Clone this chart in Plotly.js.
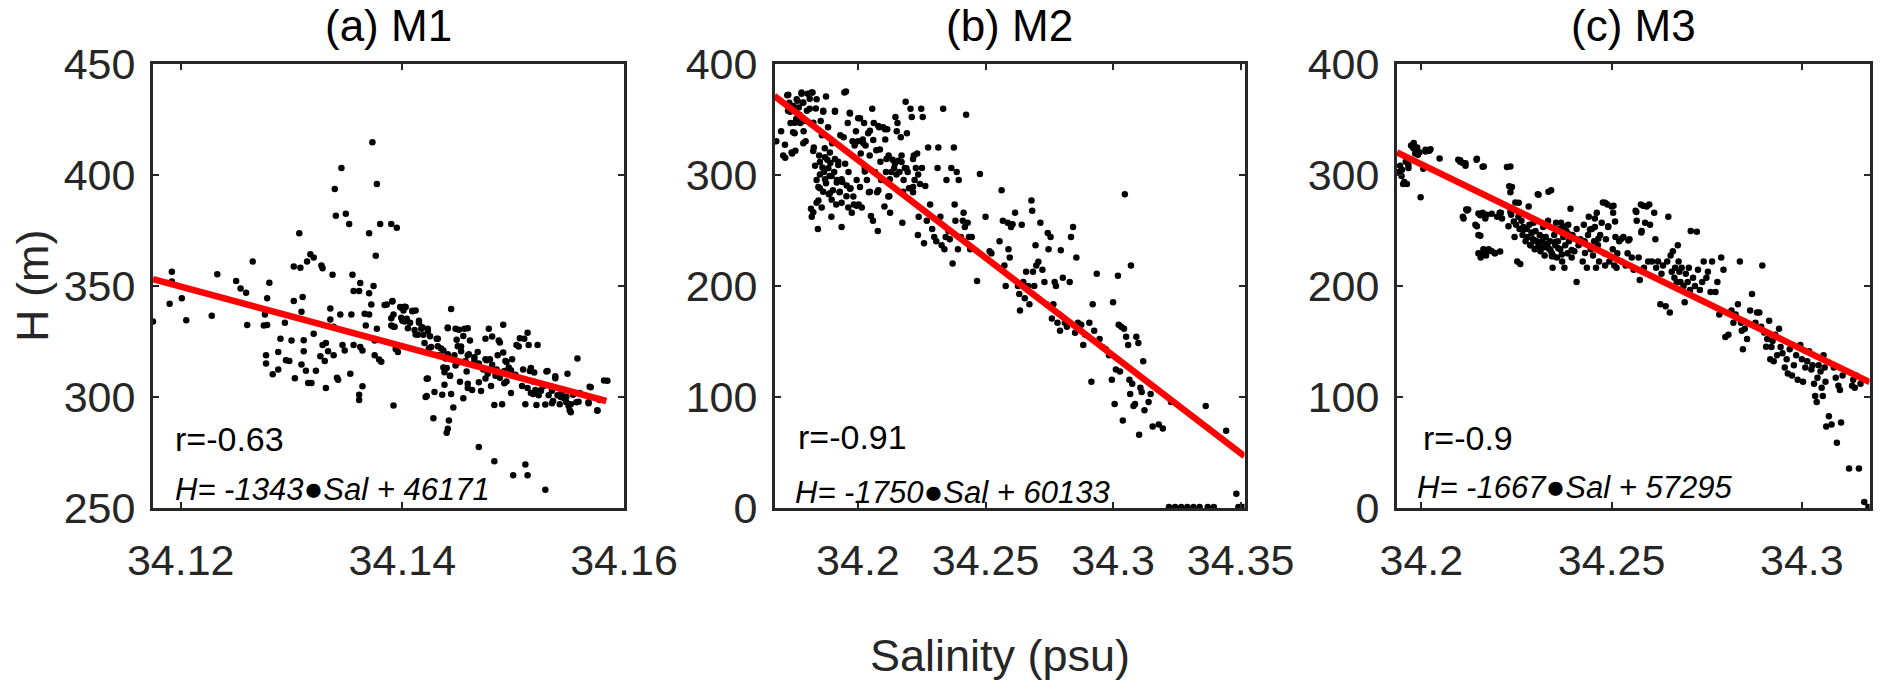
<!DOCTYPE html>
<html>
<head>
<meta charset="utf-8">
<script src="https://cdn.plot.ly/plotly-3.0.1.min.js"></script>
<style>
  body { margin: 0; background: #fff; }
  #graph { width: 1892px; height: 699px; }
</style>
</head>
<body>
<div id="graph"></div>
<script>
// M1: salinity (psu), H (m)
var m1_points = [
  [34.1192,356.4],[34.1192,352],[34.1190,342],[34.1201,344.5],[34.1205,334.6],[34.1175,334],[34.1228,336.6],[34.1233,355.3],
  [34.1250,352.2],[34.1254,348.9],[34.1259,347],[34.1265,361],[34.1260,332.4],[34.1280,351.5],[34.1278,344.5],[34.1276,337.2],
  [34.1275,332.2],[34.1278,332.4],[34.1277,318.8],[34.1277,315.1],[34.1283,310.2],[34.1288,312.4],[34.1288,320.3],[34.1290,326.2],
  [34.1294,333.5],[34.1295,316.6],[34.1298,316.2],[34.1300,325.4],[34.1302,343.2],[34.1302,358.8],[34.1307,373.8],[34.1308,358.2],
  [34.1309,338.4],[34.1310,345],[34.1311,320.6],[34.1311,325.6],[34.1303,308.5],[34.1309,314.6],[34.1313,311.8],[34.1315,306.3],
  [34.1318,306.3],[34.1314,361],[34.1317,364.3],[34.1320,362.8],[34.1320,328.5],[34.1322,311.8],[34.1327,359.2],[34.1328,358],
  [34.1326,318.4],[34.1328,323.4],[34.1330,316.2],[34.1331,304.1],[34.1331,324.3],[34.1333,320.6],[34.1335,339.9],[34.1335,334.9],
  [34.1337,355.1],[34.1338,318.8],[34.1338,331.6],[34.1339,393.7],[34.1340,381.6],[34.1341,308.7],[34.1342,307.8],[34.1345,403.2],
  [34.1344,337.2],[34.1346,323.4],[34.1348,321],[34.1349,382.5],[34.1352,377.9],[34.1353,310.5],[34.1354,337.2],[34.1355,355.1],
  [34.1356,347.8],[34.1356,323.4],[34.1361,298.6],[34.1361,301],[34.1361,347.8],[34.1362,351.3],[34.1362,322.5],[34.1364,304.8],
  [34.1364,321],[34.1366,337.5],[34.1367,332.2],[34.1370,373.8],[34.1370,346.7],[34.1370,337.2],[34.1372,341.7],[34.1373,414.8],
  [34.1374,350],[34.1375,325.4],[34.1375,318.8],[34.1376,363.6],[34.1377,396],[34.1377,330.7],[34.1379,316.9],[34.1380,377.9],
  [34.1381,315.9],[34.1384,341.4],[34.1386,341.7],[34.1390,377.9],[34.1390,332.2],[34.1391,343.2],[34.1392,296.2],[34.1392,337.2],
  [34.1393,331.6],[34.1395,376.2],[34.1394,321.6],[34.1396,320.3],[34.1398,340.5],[34.1399,335.7],[34.1401,339],[34.1402,334],
  [34.1403,340.5],[34.1404,335.3],[34.1407,333.5],[34.1409,338.6],[34.1411,330.2],[34.1412,339],[34.1414,328],[34.1415,333.5],
  [34.1417,330.7],[34.1419,328],[34.1420,324.3],[34.1422,308.2],[34.1422,300.4],[34.1423,330.7],[34.1425,327.4],[34.1426,322.5],
  [34.1428,290.4],[34.1429,302.2],[34.1431,326.2],[34.1432,322.9],[34.1433,318.8],[34.1436,301],[34.1437,321],[34.1437,313.3],
  [34.1438,311.1],[34.1439,317.3],[34.1440,283.9],[34.1441,285.7],[34.1441,331.3],[34.1442,289.4],[34.1443,309.6],[34.1444,339.6],
  [34.1444,301.4],[34.1446,295.3],[34.1447,318.8],[34.1448,314.2],[34.1448,330.7],[34.1449,325.8],[34.1450,322.9],[34.1452,306.9],
  [34.1453,320.6],[34.1455,299.4],[34.1456,330.7],[34.1457,316.2],[34.1458,311.5],[34.1459,306],[34.1459,318.8],[34.1461,325.4],
  [34.1463,303.2],[34.1465,316.7],[34.1468,320.3],[34.1469,277.5],[34.1471,302.7],[34.1473,312.4],[34.1475,317],[34.1475,326.2],
  [34.1477,310.5],[34.1478,330.7],[34.1479,317],[34.1480,305],[34.1481,327.2],[34.1483,271.1],[34.1483,296.4],[34.1485,312.4],
  [34.1486,318.8],[34.1487,325.4],[34.1488,308.7],[34.1490,296.7],[34.1491,332.6],[34.1492,311.7],[34.1493,316.2],[34.1494,307],
  [34.1496,313.3],[34.1498,301.8],[34.1499,317],[34.1500,264.7],[34.1502,310],[34.1503,323.4],[34.1506,326.5],[34.1508,305],
  [34.1509,312.4],[34.1511,269.6],[34.1511,296.7],[34.1513,328.9],[34.1513,264.7],[34.1514,323.4],[34.1515,311.7],[34.1516,301.8],
  [34.1518,307],[34.1520,303.2],[34.1521,296.4],[34.1522,323.4],[34.1523,300.8],[34.1525,303],[34.1527,304.8],[34.1529,258.2],
  [34.1530,311.5],[34.1532,300.8],[34.1535,302.8],[34.1536,298.2],[34.1538,309.3],[34.1540,300.8],[34.1542,296.7],[34.1544,302.2],
  [34.1546,299.4],[34.1548,297.6],[34.1549,310.5],[34.1551,294],[34.1552,296.7],[34.1554,301],[34.1557,297.6],[34.1558,317.3],
  [34.1560,301.8],[34.1568,297.6],[34.1569,304.6],[34.1576,294],[34.1582,307.4],[34.1578,298.6],
  [34.1391,343],[34.1399,340.2],[34.1402,340.6],[34.1409,338.8],[34.1390,335.5],[34.1392,331.7],[34.1400,334.4],[34.1405,331],
  [34.1415,334.4],[34.1418,331.4],[34.1423,329.6],[34.1412,328.2],[34.1424,322],[34.1432,326.2],[34.1435,321.8],[34.1441,331],
  [34.1451,330.3],[34.1459,331],[34.1441,319.3],[34.1440,313.1],[34.1443,309.6],[34.1449,315.1],[34.1453,322.7],[34.1455,327.5],
  [34.1460,319.3],[34.1465,317.9],[34.1469,315.1],[34.1476,316.5],[34.1481,314.5],[34.1488,324.5],[34.1491,320],[34.1494,315.8],
  [34.1498,312.1],[34.1492,306.2],[34.1484,309.6],[34.1475,308.3],[34.1469,306.6],[34.1459,304.1],[34.1505,322.7],[34.1510,326.2],
  [34.1516,313.1],[34.1519,311],[34.1513,304.1],[34.1518,301.4],[34.1525,302.8],[34.1531,311.7],[34.1535,304.1],[34.1538,308.5],
  [34.1543,300],[34.1548,300],[34.1550,295.9],[34.1552,293.1],[34.1535,297.2],[34.1529,296.6],[34.1559,297.9],[34.1568,297.2],
  [34.1576,293.8],[34.1570,304.4],[34.1585,307.3],[34.1438,305.5],[34.1423,308.3],[34.1421,300]
];

// M2
var m2_points = [
  [34.1680,330.3],[34.1699,339.5],[34.1707,317.5],[34.1715,315.6],[34.1723,371.8],[34.1726,357.8],[34.1731,365.1],[34.1736,346.8],
  [34.1742,319.3],[34.1747,362.2],[34.1752,337.6],[34.1755,321.9],[34.1758,350.5],[34.1763,367],[34.1768,360.8],[34.1771,354.2],
  [34.1774,346.8],[34.1779,373.2],[34.1784,365.1],[34.1787,339.5],[34.1790,348.7],[34.1795,330.3],[34.1800,357.8],[34.1803,373.2],
  [34.1811,368.8],[34.1816,269.7],[34.1819,262.4],[34.1822,374.3],[34.1827,324.8],[34.1832,308.3],[34.1835,360],[34.1838,295.4],
  [34.1843,251.4],[34.1845,277.1],[34.1848,317.5],[34.1851,288.1],[34.1854,348.7],[34.1859,335.8],[34.1861,306.8],[34.1864,357.8],
  [34.1867,302.8],[34.1870,324.1],[34.1875,370.7],[34.1875,292.5],[34.1880,313.8],[34.1883,343.1],[34.1886,282.6],[34.1889,299.1],
  [34.1892,310.8],[34.1896,262.4],[34.1899,328.5],[34.1902,286.3],[34.1907,302.8],[34.1910,357.8],[34.1915,273.4],[34.1918,295.4],
  [34.1923,311.9],[34.1928,284.4],[34.1931,335.8],[34.1936,253.2],[34.1939,293.6],[34.1944,333.9],[34.1947,374.3],[34.1950,310.1],
  [34.1955,280.8],[34.1960,346.8],[34.1963,302.8],[34.1968,356],[34.1971,288.1],[34.1976,266.1],[34.1979,330.3],[34.1984,273.4],
  [34.1987,326.6],[34.1992,339.5],[34.1995,295.4],[34.2000,330.3],[34.2003,273.4],[34.2008,351.2],[34.2011,319.3],[34.2019,332],
  [34.2024,346.8],[34.2027,306.4],[34.2030,326.6],[34.2035,295.4],[34.2040,337.6],[34.2043,284.4],[34.2046,317.5],[34.2051,263.1],
  [34.2056,359.7],[34.2059,258.7],[34.2062,346.8],[34.2067,302.8],[34.2072,322.2],[34.2075,284.4],[34.2078,249.6],[34.2083,343.1],
  [34.2088,311.9],[34.2091,295.4],[34.2099,343.1],[34.2104,271.6],[34.2107,332],[34.2110,302.8],[34.2115,341.3],[34.2120,317.5],
  [34.2123,280.8],[34.2126,266.1],[34.2131,302.8],[34.2136,313.8],[34.2142,306.4],[34.2147,352.3],[34.2152,339.5],[34.2155,346.8],
  [34.2158,312.9],[34.2163,302.8],[34.2168,334],[34.2171,317.5],[34.2174,256.9],[34.2179,295.4],[34.2184,306.4],[34.2187,365.9],
  [34.2192,337.6],[34.2195,302.8],[34.2200,288.1],[34.2206,359.7],[34.2211,352.3],[34.2216,284.4],[34.2219,317.5],[34.2222,295.4],
  [34.2227,306.4],[34.2232,319.3],[34.2235,245.9],[34.2238,262.4],[34.2243,291.8],[34.2248,359.7],[34.2251,306.4],[34.2254,352.3],
  [34.2259,238.6],[34.2264,290],[34.2270,258.7],[34.2275,324.8],[34.2283,273.4],[34.2291,251.4],[34.2299,244.1],[34.2307,240.4],
  [34.2312,306.4],[34.2315,324.8],[34.2323,262.4],[34.2328,236.7],[34.2334,359.7],[34.2339,233.1],[34.2344,244.1],[34.2347,295.4],
  [34.2355,249.6],[34.2360,242.2],[34.2366,306.4],[34.2371,220.2],[34.2376,324.8],[34.2379,273.4],[34.2382,258.7],[34.2387,302.8],
  [34.2392,233.1],[34.2395,295.4],[34.2403,244.1],[34.2411,258.7],[34.2414,266.1],[34.2419,253.2],[34.2424,354.2],[34.2430,256.9],
  [34.2435,244.1],[34.2440,233.1],[34.2446,244.1],[34.2467,204.4],[34.2478,300.9],[34.2500,262.4],[34.2516,231.2],[34.2523,229.4],
  [34.2555,240.4],[34.2563,286.3],[34.2568,258.7],[34.2574,218.4],[34.2579,200],[34.2587,256.9],[34.2590,233.1],[34.2595,225.7],
  [34.2600,253.2],[34.2606,255.7],[34.2616,266.1],[34.2627,200],[34.2632,192.7],[34.2635,178],[34.2642,255.1],[34.2648,203.7],
  [34.2654,189],[34.2659,212.9],[34.2667,200],[34.2672,183.5],[34.2680,277.1],[34.2683,267.9],[34.2686,212.9],[34.2691,200],
  [34.2696,236.7],[34.2699,218.4],[34.2707,221.9],[34.2715,256.9],[34.2723,214.7],[34.2731,203.7],[34.2739,183.5],[34.2744,247.7],
  [34.2747,233.1],[34.2755,244.1],[34.2760,170.7],[34.2766,183.5],[34.2771,203.7],[34.2776,200],[34.2782,167],[34.2792,159.6],
  [34.2795,232.3],[34.2803,207.4],[34.2811,167],[34.2819,163.3],[34.2830,203.7],[34.2835,244.1],[34.2843,253.2],[34.2851,157.8],
  [34.2856,225.7],[34.2862,167],[34.2875,165.1],[34.2883,146.8],[34.2891,156],[34.2907,167],[34.2915,113.8],[34.2920,183.5],
  [34.2926,159.6],[34.2936,211],[34.2947,152.3],[34.2958,145],[34.2971,143.1],[34.2984,137.6],[34.2995,115.6],[34.3000,185.3],
  [34.3006,93.6],[34.3011,124.8],[34.3019,209.2],[34.3022,165.1],[34.3027,123],[34.3032,163.3],[34.3038,78.9],[34.3043,161.5],
  [34.3046,282.6],[34.3051,154.2],[34.3059,146.8],[34.3064,115.6],[34.3067,102.8],[34.3070,218.4],[34.3075,111.9],[34.3080,91.8],
  [34.3086,93.6],[34.3091,154.2],[34.3099,148.6],[34.3102,66.1],[34.3107,108.3],[34.3112,104.6],[34.3118,132.1],[34.3123,88.1],
  [34.3139,95.4],[34.3147,102.8],[34.3155,73.4],[34.3179,75.2],[34.3195,71.6],[34.3227,95.4],[34.3363,91.8],[34.3443,69.7],
  [34.3483,12.8],[34.3219,1],[34.3243,1],[34.3267,1],[34.3291,1],[34.3315,1],[34.3339,1],[34.3371,1],[34.3395,1],[34.3491,1],[34.3512,1],
  [34.1727,372.4],[34.1779,374.4],[34.1818,374.4],[34.1760,368.2],[34.1786,365.4],[34.1838,368.2],[34.1734,356.9],[34.1811,359.7],
  [34.1864,356.9],[34.1753,347],[34.1779,349.8],[34.1825,347],[34.1746,338.5],[34.1714,327.2],[34.1740,320.2],[34.1786,328.6],
  [34.1825,321.6],[34.1851,311.7],[34.1871,315.9],[34.1890,320.2],[34.1910,314.5],[34.1923,308.9],[34.1884,306],[34.1851,300.4],
  [34.1871,296.2],[34.1897,299],[34.1917,293.3],[34.1936,296.2],[34.1956,290.5],[34.1845,289.1],[34.1864,284.9],[34.1890,283.5],
  [34.1929,284.9],[34.1969,287.7],[34.1838,275],[34.1858,270.7],[34.1897,277.8],[34.1936,275],[34.1962,270.7],[34.1825,266.5],
  [34.1995,272.2],[34.2015,270.7],[34.1982,280.6],[34.2008,289.1],[34.2027,303.2],[34.2021,328.6],[34.2047,339.9],[34.2080,344.2],
  [34.2106,341.3],[34.2060,331.5],[34.2086,323],[34.2112,314.5],[34.2145,310.3],[34.2171,311.7],[34.2190,306],[34.2216,314.5],
  [34.2236,300.4],[34.2151,300.4],[34.2125,296.2],[34.2047,284.9],[34.2080,286.3],[34.2119,280.6],[34.2177,284.9],[34.2216,289.1],
  [34.1953,375.2],[34.1910,356.9],[34.1969,355.5],[34.2001,351.2]
];

// M3
var m3_points = [
  [34.1941,302.8],[34.1944,308.3],[34.1948,299.1],[34.1952,291.8],[34.1955,293.6],[34.1962,291.8],[34.1966,306.4],[34.1959,311.9],
  [34.1973,326.6],[34.1979,324.1],[34.1984,319.3],[34.1987,321.9],[34.1991,318.2],[34.1998,280],[34.2005,305.7],[34.2011,321.1],
  [34.2021,321.9],[34.2048,314.9],[34.2097,313.8],[34.2102,312],[34.2109,310.8],[34.2116,308.3],[34.2145,313.8],[34.2161,307.5],
  [34.2109,262.4],[34.2118,269],[34.2123,269],[34.2142,255.1],[34.2150,265.3],[34.2156,264.2],[34.2161,266.1],[34.2172,264.2],
  [34.2150,245.9],[34.2150,229.4],[34.2156,225.7],[34.2163,233.1],[34.2170,227.5],[34.2177,233.1],[34.2185,231.2],[34.2193,229.4],
  [34.2199,262.4],[34.2206,266.1],[34.2209,266.1],[34.2225,307.2],[34.2231,289.9],[34.2234,284.4],[34.2236,264.2],[34.2241,269],
  [34.2245,244.1],[34.2247,275.3],[34.2249,255.1],[34.2252,222],[34.2255,262.4],[34.2258,251.4],[34.2263,258.7],[34.2266,245.9],
  [34.2268,253.2],[34.2274,240.4],[34.2277,251.4],[34.2279,244.1],[34.2282,271.6],[34.2284,255.1],[34.2288,236.7],[34.2290,247.7],
  [34.2293,242.2],[34.2295,256.9],[34.2298,233.1],[34.2300,249.6],[34.2303,240.4],[34.2306,282.6],[34.2308,236.7],[34.2311,245.9],
  [34.2313,231.2],[34.2317,240.4],[34.2320,253.2],[34.2322,234.9],[34.2324,227.5],[34.2327,244.1],[34.2331,236.7],[34.2333,258.7],
  [34.2335,233.8],[34.2338,240.4],[34.2341,286.3],[34.2343,229.4],[34.2345,216.5],[34.2349,245.9],[34.2352,236.7],[34.2354,256.9],
  [34.2356,225.7],[34.2359,240.4],[34.2363,251.4],[34.2365,233.1],[34.2367,256.9],[34.2370,222],[34.2373,244.1],[34.2376,216.5],
  [34.2378,236.7],[34.2381,249.6],[34.2384,229.4],[34.2386,255.1],[34.2388,240.4],[34.2392,269.7],[34.2395,225.7],[34.2397,245.9],
  [34.2402,231.2],[34.2408,203.7],[34.2408,251.4],[34.2413,236.7],[34.2418,242.2],[34.2424,222],[34.2427,255.1],[34.2429,240.4],
  [34.2435,216.5],[34.2438,245.9],[34.2440,262.4],[34.2445,233.1],[34.2448,251.4],[34.2451,227.5],[34.2454,240.4],[34.2456,253.2],
  [34.2459,216.5],[34.2461,266.1],[34.2464,236.7],[34.2467,222],[34.2470,245.9],[34.2474,256.9],[34.2477,275.3],[34.2481,229.4],
  [34.2483,218.4],[34.2485,242.2],[34.2489,273.4],[34.2491,253.2],[34.2494,222],[34.2500,271.6],[34.2503,233.1],[34.2504,266.1],
  [34.2507,218.4],[34.2510,244.1],[34.2513,216.5],[34.2515,229.4],[34.2520,240.4],[34.2526,222],[34.2531,244.1],[34.2537,218.4],
  [34.2542,229.4],[34.2547,242.2],[34.2553,225.7],[34.2558,214.7],[34.2563,267.9],[34.2566,258.7],[34.2571,225.7],[34.2574,205.5],
  [34.2577,273.4],[34.2579,249.6],[34.2585,216.5],[34.2588,256.9],[34.2592,271.6],[34.2596,222],[34.2599,273.4],[34.2601,255.1],
  [34.2606,222],[34.2612,266.1],[34.2615,242.2],[34.2617,216.5],[34.2622,222],[34.2628,183.5],[34.2631,211],[34.2635,218.4],
  [34.2642,181.7],[34.2646,222],[34.2649,262.4],[34.2653,176.2],[34.2655,227.5],[34.2658,212.9],[34.2661,231.2],[34.2665,207.4],
  [34.2667,216.5],[34.2671,203.7],[34.2674,236.7],[34.2676,222],[34.2678,212.9],[34.2681,203.7],[34.2684,216.5],[34.2689,200],
  [34.2692,185.3],[34.2695,211],[34.2700,203.7],[34.2703,216.5],[34.2706,196.3],[34.2708,249.6],[34.2714,207.4],[34.2719,200],
  [34.2724,248.8],[34.2727,214.7],[34.2732,196.3],[34.2738,203.7],[34.2742,222],[34.2749,207.4],[34.2753,212.9],[34.2760,194.5],
  [34.2764,222],[34.2773,194.5],[34.2778,203.7],[34.2783,174.3],[34.2788,225.7],[34.2794,214.7],[34.2799,154.1],[34.2807,156],
  [34.2815,178],[34.2820,167],[34.2826,174.3],[34.2832,183.5],[34.2837,222],[34.2840,167],[34.2842,159.6],[34.2845,143.1],
  [34.2850,161.5],[34.2856,152.3],[34.2864,178],[34.2869,192.7],[34.2878,167],[34.2882,176.2],[34.2888,176.2],[34.2893,163.3],
  [34.2896,218.4],[34.2901,158.2],[34.2906,145.3],[34.2909,152.3],[34.2914,168.8],[34.2917,134],[34.2920,145],[34.2923,150.5],
  [34.2926,132.1],[34.2930,156],[34.2935,137.6],[34.2940,161.5],[34.2944,145],[34.2949,139.4],[34.2955,126.6],[34.2960,134],
  [34.2963,121.1],[34.2968,143.1],[34.2974,119.3],[34.2979,128.5],[34.2985,137.6],[34.2989,115.6],[34.2996,146.8],[34.3000,134],
  [34.3003,113.8],[34.3009,126.6],[34.3014,132.1],[34.3019,141.3],[34.3025,124.8],[34.3028,128.5],[34.3032,111.9],[34.3035,100.9],
  [34.3039,95.4],[34.3041,117.4],[34.3044,128.5],[34.3049,122.9],[34.3052,108.3],[34.3055,100.9],[34.3057,137.6],[34.3060,126.6],
  [34.3062,113.8],[34.3064,73.4],[34.3071,82.6],[34.3078,75.2],[34.3084,126.6],[34.3089,117.4],[34.3092,58.7],[34.3096,110.1],
  [34.3100,106.4],[34.3103,77.1],[34.3107,119.3],[34.3124,35.6],[34.3132,110.1],[34.3135,115.6],[34.3139,108.3],[34.3143,119.3],
  [34.3150,35.6],[34.3154,111.9],[34.3164,5.5],[34.3175,1],
  [34.1980,328.9],[34.1989,324.7],[34.1995,320.4],[34.2011,322.7],[34.2024,323.2],[34.1966,309.1],[34.1949,304.8],[34.1958,292.1],
  [34.2102,313.3],[34.2116,310.5],[34.2146,314.7],[34.2164,307.6],[34.2120,268],[34.2155,263.7],[34.2168,260.9],[34.2185,265.1],
  [34.2111,260.9],[34.2146,253.8],[34.2155,245.3],[34.2159,228.3],[34.2172,231.1],[34.2194,229.7],[34.2207,231.1],[34.2212,260.9],
  [34.2234,307.6],[34.2238,289.2],[34.2256,275.1],[34.2234,266.6],[34.2243,258.1],[34.2229,253.8],[34.2260,219.8],[34.2269,251],
  [34.2277,243.9],[34.2290,248.1],[34.2299,241],[34.2286,236.8],[34.2308,235.4],[34.2321,243.9],[34.2330,238.2],[34.2339,232.5],
  [34.2343,226.9],[34.2352,239.6],[34.2360,234],[34.2369,228.3],[34.2373,253.8],[34.2387,246.7],[34.2395,232.5],[34.2404,242.5],
  [34.2417,238.2],[34.2430,229.7],[34.2443,251],[34.2456,260.9],[34.2465,242.5],[34.2483,275.1],[34.2505,272.2],[34.2491,253.8],
  [34.2509,258.1],[34.2526,242.5],[34.2544,241],[34.2565,266.6],[34.2583,272.2],[34.2578,248.1],[34.2308,282.1],[34.2334,285],
  [34.2347,226.9]
];

// fitted lines, ends
var m1_fit_x = [34.1175, 34.1584];
var m1_fit_y = [353.1, 298.2];
var m2_fit_x = [34.1672, 34.3515];
var m2_fit_y = [371.4, 46.6];
var m3_fit_x = [34.1936, 34.3178];
var m3_fit_y = [320.4, 113.4];

var panel_titles = ['(a) M1', '(b) M2', '(c) M3'];
var r_texts = ['r=-0.63', 'r=-0.91', 'r=-0.9'];
var eq_texts = ['H= -1343', 'H= -1750', 'H= -1667'];
var eq_tails = ['Sal + 46171', 'Sal + 60133', 'Sal + 57295'];

var xtick_a = [34.12, 34.14, 34.16];
var xtick_b = [34.2, 34.25, 34.3, 34.35];
var xtick_c = [34.2, 34.25, 34.3];
var ytick_a = [250, 300, 350, 400, 450];
var ytick_bc = [0, 100, 200, 300, 400];

var ink = '#262626';
var fontFam = 'Liberation Sans, Arial, sans-serif';

function dots(pts, xa, ya) {
  return {
    x: pts.map(function (p) { return p[0]; }),
    y: pts.map(function (p) { return p[1]; }),
    xaxis: xa, yaxis: ya,
    mode: 'markers', type: 'scatter',
    marker: {color: '#000', size: 6.5},
    hoverinfo: 'skip'
  };
}
function fit(xs, ys, xa, ya) {
  return {
    x: xs, y: ys, xaxis: xa, yaxis: ya,
    mode: 'lines', type: 'scatter',
    line: {color: '#ff0000', width: 6.5},
    hoverinfo: 'skip'
  };
}

var data = [
  dots(m1_points, 'x', 'y'), fit(m1_fit_x, m1_fit_y, 'x', 'y'),
  dots(m2_points, 'x2', 'y2'), fit(m2_fit_x, m2_fit_y, 'x2', 'y2'),
  dots(m3_points, 'x3', 'y3'), fit(m3_fit_x, m3_fit_y, 'x3', 'y3')
];

function axis(dom, range, vals, texts, anchor, standoff) {
  return {
    domain: dom, range: range, anchor: anchor,
    tickvals: vals, ticktext: texts,
    showgrid: false, zeroline: false,
    showline: true, linecolor: ink, linewidth: 3, mirror: 'ticks',
    ticks: 'inside', ticklen: 6, tickwidth: 2, tickcolor: ink,
    ticklabelstandoff: standoff,
    tickfont: {family: fontFam, size: 43, color: ink}
  };
}

var W = 1892, H = 699;
var top_px = 64, bot_px = 508;
var ydom = [(H - bot_px) / H, (H - top_px) / H];
var boxes = [[153, 624], [775, 1244.5], [1397, 1869.6]];
var xdoms = boxes.map(function (b) { return [b[0] / W, b[1] / W]; });

var layout = {
  width: W, height: H,
  margin: {l: 0, r: 0, t: 0, b: 0},
  showlegend: false,
  paper_bgcolor: '#fff', plot_bgcolor: '#fff',
  xaxis: axis(xdoms[0], [34.1175, 34.16], xtick_a, ['34.12', '34.14', '34.16'], 'y', 12),
  yaxis: axis(ydom, [250, 450], ytick_a, ytick_a.map(String), 'x', 6),
  xaxis2: axis(xdoms[1], [34.1675, 34.3515], xtick_b, ['34.2', '34.25', '34.3', '34.35'], 'y2', 12),
  yaxis2: axis(ydom, [0, 400], ytick_bc, ytick_bc.map(String), 'x2', 6),
  xaxis3: axis(xdoms[2], [34.1936, 34.3178], xtick_c, ['34.2', '34.25', '34.3'], 'y3', 12),
  yaxis3: axis(ydom, [0, 400], ytick_bc, ytick_bc.map(String), 'x3', 6),
  annotations: []
};

var textPos = [
  {r: [173, 439], eq: [173, 489]},
  {r: [796, 437], eq: [793, 491]},
  {r: [1421, 438], eq: [1415, 486]}
];

boxes.forEach(function (b, i) {
  layout.annotations.push({
    xref: 'paper', yref: 'paper',
    x: (b[0] + b[1]) / 2 / W, y: 1,
    xanchor: 'center', yanchor: 'top', showarrow: false, borderpad: 0,
    text: panel_titles[i],
    font: {family: fontFam, size: 44, color: '#000'}
  });
  layout.annotations.push({
    xref: 'paper', yref: 'paper',
    x: textPos[i].r[0] / W, y: (H - textPos[i].r[1]) / H,
    xanchor: 'left', yanchor: 'middle', showarrow: false,
    text: r_texts[i],
    font: {family: fontFam, size: 34, color: '#000'}
  });
  layout.annotations.push({
    xref: 'paper', yref: 'paper',
    x: textPos[i].eq[0] / W, y: (H - textPos[i].eq[1]) / H,
    xanchor: 'left', yanchor: 'middle', showarrow: false,
    text: '<i>' + eq_texts[i] + '<span style="font-size:33px">\u25CF</span>' + eq_tails[i] + '</i>',
    font: {family: fontFam, size: 31, color: '#000'}
  });
});

layout.annotations.push({
  xref: 'paper', yref: 'paper', x: 32 / W, y: (H - 286) / H,
  xanchor: 'center', yanchor: 'middle', showarrow: false, textangle: -90,
  text: 'H (m)', font: {family: fontFam, size: 45, color: ink}
});
layout.annotations.push({
  xref: 'paper', yref: 'paper', x: 1000 / W, y: (H - 655) / H,
  xanchor: 'center', yanchor: 'middle', showarrow: false,
  text: 'Salinity (psu)', font: {family: fontFam, size: 45, color: ink}
});

Plotly.newPlot('graph', data, layout, {staticPlot: true});
</script>
</body>
</html>
